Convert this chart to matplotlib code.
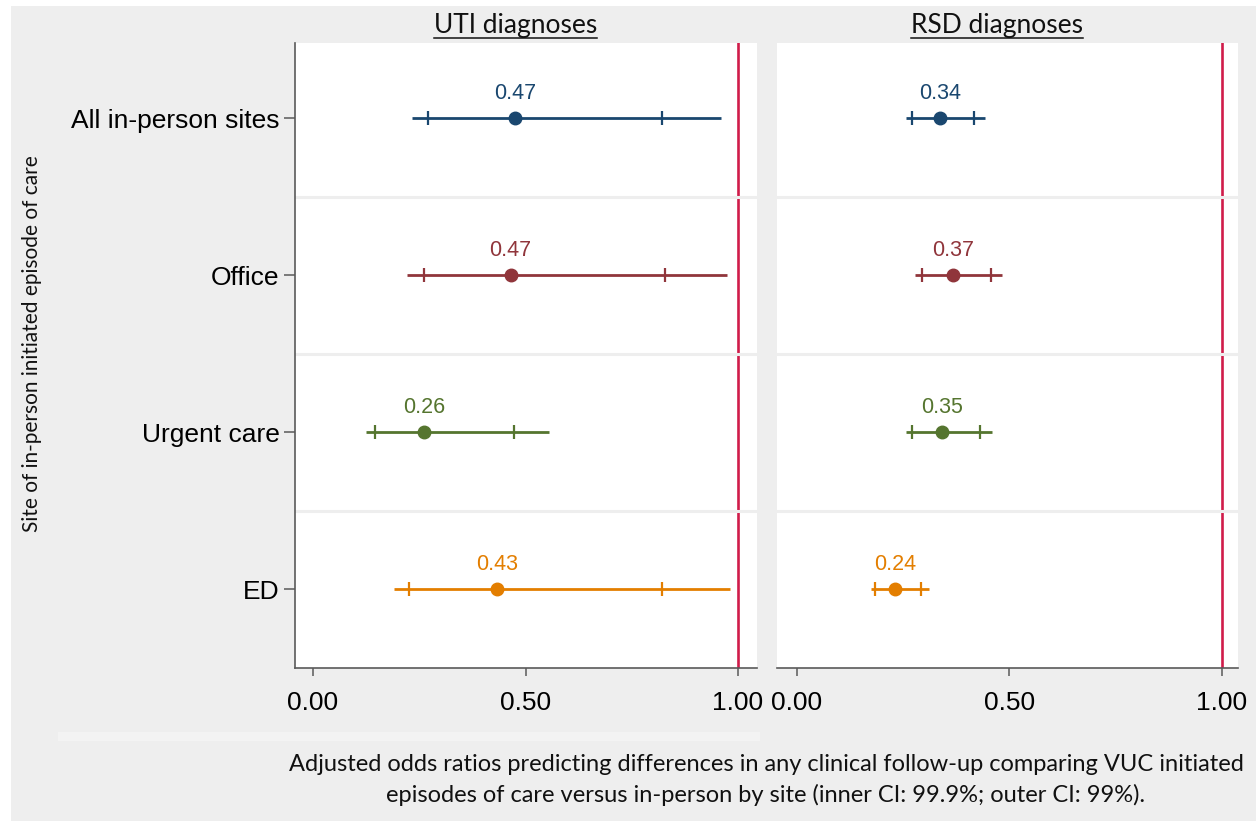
import matplotlib
matplotlib.use("Agg")
import matplotlib.pyplot as plt
from matplotlib.patches import Rectangle
from matplotlib.lines import Line2D

# ---------------- data ----------------
categories = ["All in-person sites", "Office", "Urgent care", "ED"]
panel_titles = ["UTI diagnoses", "RSD diagnoses"]

uti_or = [0.475, 0.465, 0.262, 0.433]
uti_inner_lo = [0.270, 0.260, 0.147, 0.227]
uti_inner_hi = [0.822, 0.829, 0.474, 0.821]
uti_outer_lo = [0.232, 0.222, 0.125, 0.191]
uti_outer_hi = [0.959, 0.973, 0.556, 0.980]
uti_labels = ["0.47", "0.47", "0.26", "0.43"]

rsd_or = [0.336, 0.367, 0.341, 0.231]
rsd_inner_lo = [0.271, 0.295, 0.271, 0.184]
rsd_inner_hi = [0.416, 0.457, 0.431, 0.293]
rsd_outer_lo = [0.256, 0.278, 0.256, 0.174]
rsd_outer_hi = [0.442, 0.483, 0.460, 0.311]
rsd_labels = ["0.34", "0.37", "0.35", "0.24"]

xticks = [0.0, 0.5, 1.0]
xtick_labels = ["0.00", "0.50", "1.00"]
ref_value = 1.0

x_title_lines = ["Adjusted odds ratios predicting differences in any clinical follow-up comparing VUC initiated",
                 "episodes of care versus in-person by site (inner CI: 99.9%; outer CI: 99%)."]
y_title = "Site of in-person initiated episode of care"

colors = ["#1a476f", "#90353b", "#55752f", "#e37e00"]
ref_color = "#d01c4a"
bg = "#eeeeee"

# ---------------- figure ----------------
W, H = 1256, 821
fig = plt.figure(figsize=(W / 100, H / 100), dpi=100, facecolor="white")

def fx(px):
    return px / W

def fy(py):
    return 1 - py / H

fig.patches.append(Rectangle((fx(11), 0), 1, fy(6), transform=fig.transFigure,
                             facecolor=bg, edgecolor="none", zorder=-10))
fig.patches.append(Rectangle((fx(58), fy(741)), fx(760) - fx(58), fy(732) - fy(741),
                             transform=fig.transFigure, facecolor="#f3f3f3",
                             edgecolor="none", zorder=-9))

top, bottom = 43, 668
ax1 = fig.add_axes([fx(295), fy(bottom), fx(757) - fx(295), fy(top) - fy(bottom)])
ax2 = fig.add_axes([fx(777), fy(bottom), fx(1238) - fx(777), fy(top) - fy(bottom)])

panels = [
    (ax1, uti_or, uti_inner_lo, uti_inner_hi, uti_outer_lo, uti_outer_hi, uti_labels, (-0.0424, 1.0447)),
    (ax2, rsd_or, rsd_inner_lo, rsd_inner_hi, rsd_outer_lo, rsd_outer_hi, rsd_labels, (-0.0471, 1.0384)),
]

ypos = list(range(1, len(categories) + 1))
spine_col = "#5a5a5a"

for i, (ax, orv, ilo, ihi, olo, ohi, labs, xl) in enumerate(panels):
    ax.set_facecolor("white")
    ax.set_xlim(*xl)
    ax.set_ylim(len(categories) + 0.5, 0.52)
    # separators between rows
    ax.set_yticks([y + 0.5 for y in ypos[:-1]], minor=True)
    ax.grid(True, which="minor", axis="y", color="#eeeeee", lw=2.2, zorder=0)
    ax.tick_params(axis="y", which="minor", length=0)
    ax.axvline(ref_value, color=ref_color, lw=1.9, zorder=1)
    for j, y in enumerate(ypos):
        c = colors[j]
        ax.plot([olo[j], ohi[j]], [y, y], color=c, lw=2.0, solid_capstyle="butt", zorder=3)
        ax.plot([ilo[j], ihi[j]], [y, y], ls="none", marker="|", ms=10, mew=1.6, color=c, zorder=4)
        ax.plot([orv[j]], [y], ls="none", marker="o", ms=9, color=c, zorder=5)
        ax.annotate(labs[j], (orv[j], y), xytext=(0, 10.5), textcoords="offset points",
                    ha="center", va="bottom", color=c, fontsize=15.5,
                    family="Liberation Sans")
    ax.set_xticks(xticks)
    ax.set_xticklabels(xtick_labels, fontsize=19, family="Liberation Sans")
    ax.tick_params(axis="x", which="major", length=6, width=1.1, color=spine_col, pad=10.5)
    for s in ["top", "right"]:
        ax.spines[s].set_visible(False)
    ax.spines["bottom"].set_color(spine_col)
    ax.spines["bottom"].set_linewidth(1.2)
    if i == 0:
        ax.set_yticks(ypos)
        ax.set_yticklabels(categories, fontsize=19, family="Liberation Sans")
        ax.tick_params(axis="y", which="major", length=8, width=1.1, color=spine_col, pad=3)
        ax.spines["left"].set_color(spine_col)
        ax.spines["left"].set_linewidth(1.2)
    else:
        ax.set_yticks([])
        ax.spines["left"].set_visible(False)

# panel titles with underline
renderer = fig.canvas.get_renderer()
for ax, t in zip([ax1, ax2], panel_titles):
    bb = ax.get_position()
    xc = bb.x0 + 0.478 * bb.width
    txt = fig.text(xc, fy(33), t, ha="center", va="baseline", fontsize=19, family="Lato",
                   color="#111111")
    ext = txt.get_window_extent(renderer)
    fig.add_artist(Line2D([ext.x0 / W, ext.x1 / W], [fy(38), fy(38)],
                          transform=fig.transFigure, color="#111111", lw=1.1))

# axis titles
for line, base in zip(x_title_lines, [771, 802]):
    fig.text(fx(766), fy(base), line, ha="center", va="baseline", fontsize=17,
             family="Lato", color="#111111")
fig.text(fx(32), fy(344), y_title, ha="center", va="center", rotation=90,
         fontsize=15, family="Lato", color="#111111")

fig.savefig("out.png", dpi=100, facecolor=fig.get_facecolor())
